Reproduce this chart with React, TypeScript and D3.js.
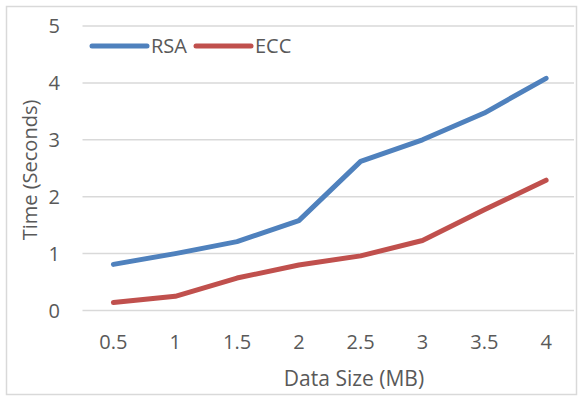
import React from "react";
import * as d3 from "d3";

const categories = ["0.5", "1", "1.5", "2", "2.5", "3", "3.5", "4"];
const rsa = [0.81, 1.0, 1.21, 1.58, 2.62, 3.0, 3.47, 4.08];
const ecc = [0.14, 0.25, 0.57, 0.8, 0.96, 1.23, 1.77, 2.29];
const yTicks = [0, 1, 2, 3, 4, 5];
const seriesNames = ["RSA", "ECC"];
const colors = ["#4F81BD", "#C0504D"];

export default function App() {
  const W = 578, H = 396;
  const left = 82.5, right = 577, top = 26, bottom = 310.5;
  const x = d3.scalePoint<string>().domain(categories).range([left, right]).padding(0.5);
  const y = d3.scaleLinear().domain([0, 5]).range([bottom, top]);
  const line = d3.line<number>().x((_, i) => x(categories[i])!).y((d) => y(d));
  const font = "'Open Sans', 'Noto Sans', sans-serif";
  const series = [rsa, ecc];
  const legendX = [92, 196];
  return (
    <svg width={W} height={H} style={{ position: "absolute", left: 0, top: 0 }} fontFamily={font}>
      <rect x={6.5} y={6.5} width={570} height={388} fill="#fff" stroke="#D9D9D9" strokeWidth={1.5} />
      {yTicks.map((t) => (
        <g key={t}>
          <line x1={left} x2={right - 3} y1={y(t)} y2={y(t)} stroke="#D9D9D9" strokeWidth={1.5} />
          <text x={60} y={y(t)} dy="0.36em" textAnchor="end" fontSize={20} fill="#595959">{t}</text>
        </g>
      ))}
      {categories.map((c) => (
        <text key={c} x={x(c)} y={349} textAnchor="middle" fontSize={20} fill="#595959">{c}</text>
      ))}
      {series.map((s, i) => (
        <path key={i} d={line(s)!} fill="none" stroke={colors[i]} strokeWidth={5} strokeLinecap="round" strokeLinejoin="round" />
      ))}
      {seriesNames.map((n, i) => (
        <g key={n} transform={`translate(${legendX[i]},46)`}>
          <line x1={0} x2={55} y1={0} y2={0} stroke={colors[i]} strokeWidth={5} strokeLinecap="round" />
          <text x={59} y={0} dy="0.36em" fontSize={20} fill="#595959">{n}</text>
        </g>
      ))}
      <text transform={`translate(37,170) rotate(-90)`} textAnchor="middle" fontSize={20} fill="#595959">Time (Seconds)</text>
      <text x={354} y={386} textAnchor="middle" fontSize={21} fill="#595959">Data Size (MB)</text>
    </svg>
  );
}
